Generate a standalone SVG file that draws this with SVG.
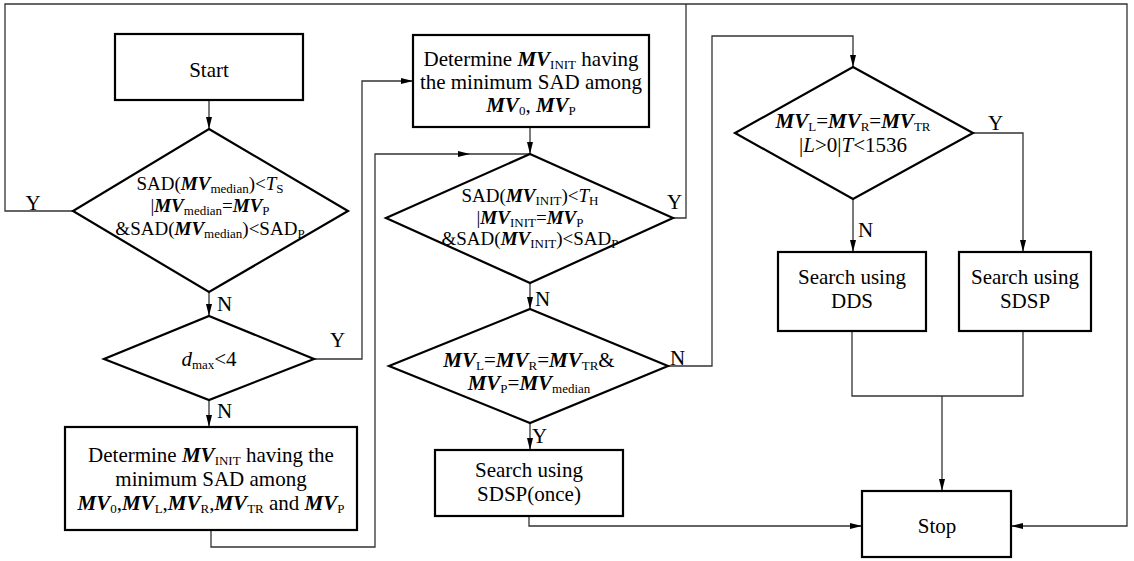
<svg xmlns="http://www.w3.org/2000/svg" width="1134" height="561" viewBox="0 0 1134 561" font-family="'Liberation Serif', 'Times New Roman', Times, 'DejaVu Serif', serif">
<defs>
<marker id="arr" viewBox="0 0 12 6" refX="12" refY="3" markerWidth="12" markerHeight="6" markerUnits="userSpaceOnUse" orient="auto"><path d="M0,0 L12,3 L0,6 z" fill="#000"/></marker>
<style>
.shape{fill:#fff;stroke:#000;stroke-width:2.2}
.conn{fill:none;stroke:#333;stroke-width:1.3}
.arr{marker-end:url(#arr)}
text{font-family:'Liberation Serif','Times New Roman',Times,'DejaVu Serif',serif;font-size:21px;fill:#000}
.c{text-anchor:middle}
.d{font-size:19px}
.b{font-weight:bold;font-style:italic}
.i{font-style:italic}
.s{font-size:13px}
</style>
</defs>
<rect width="1134" height="561" fill="#fff"/>
<g id="connectors">
<path class="conn arr" d="M209,100 V129"/>
<path class="conn arr" d="M73,211 H5 V4 H1127 V526 H1011"/>
<path class="conn" d="M673,218 H686 V4"/>
<path class="conn arr" d="M209,292 V316"/>
<path class="conn arr" d="M314,359 H362 V81 H413"/>
<path class="conn arr" d="M209,400 V427"/>
<path class="conn arr" d="M211,530 V547 H375 V154 H470"/>
<path class="conn" d="M470,154 H530"/>
<path class="conn arr" d="M530,127 V154"/>
<path class="conn arr" d="M530,283 V309"/>
<path class="conn arr" d="M530,423 V450"/>
<path class="conn arr" d="M668,366 H712 V36 H853 V67"/>
<path class="conn arr" d="M973,133 H1023 V252"/>
<path class="conn arr" d="M853,199 V252"/>
<path class="conn" d="M852,331 V396 H1023 V331"/>
<path class="conn arr" d="M942,396 V491"/>
<path class="conn arr" d="M529,516 V526 H862"/>
</g>
<g id="labels">
<text x="33" y="210" class="c">Y</text>
<text x="217" y="311">N</text>
<text x="330" y="347">Y</text>
<text x="217" y="418">N</text>
<text x="667" y="209">Y</text>
<text x="535" y="306">N</text>
<text x="670" y="365">N</text>
<text x="532" y="443">Y</text>
<text x="988" y="130">Y</text>
<text x="858" y="237">N</text>
</g>
<g id="start">
<rect class="shape" x="115" y="34" width="188" height="66"/>
<text x="209" y="77" class="c">Start</text>
</g>
<g id="cond1">
<polygon class="shape" points="209,129 348,211 209,292 73,211"/>
<text x="210" y="190" class="c d">SAD(<tspan class="b">MV</tspan><tspan class="s" dy="3">median</tspan><tspan dy="-3">)&lt;</tspan><tspan class="i">T</tspan><tspan class="s" dy="3">S</tspan></text>
<text x="210" y="212" class="c d">|<tspan class="b">MV</tspan><tspan class="s" dy="3">median</tspan><tspan dy="-3">=</tspan><tspan class="b">MV</tspan><tspan class="s" dy="3">P</tspan></text>
<text x="210" y="235" class="c d">&amp;SAD(<tspan class="b">MV</tspan><tspan class="s" dy="3">median</tspan><tspan dy="-3">)&lt;SAD</tspan><tspan class="s" dy="3">P</tspan></text>
</g>
<g id="cond2">
<polygon class="shape" points="209,316 314,359 209,400 104,359"/>
<text x="209" y="366" class="c"><tspan class="i">d</tspan><tspan class="s" dy="3">max</tspan><tspan dy="-3">&lt;4</tspan></text>
</g>
<g id="init-all">
<rect class="shape" x="65" y="427" width="292" height="103"/>
<text x="211" y="462" class="c">Determine <tspan class="b">MV</tspan><tspan class="s" dy="3">INIT</tspan><tspan dy="-3"> having the</tspan></text>
<text x="211" y="486" class="c">minimum SAD among</text>
<text x="211" y="510" class="c"><tspan class="b">MV</tspan><tspan class="s" dy="3">0</tspan><tspan dy="-3">,</tspan><tspan class="b">MV</tspan><tspan class="s" dy="3">L</tspan><tspan dy="-3">,</tspan><tspan class="b">MV</tspan><tspan class="s" dy="3">R</tspan><tspan dy="-3">,</tspan><tspan class="b">MV</tspan><tspan class="s" dy="3">TR</tspan><tspan dy="-3"> and </tspan><tspan class="b">MV</tspan><tspan class="s" dy="3">P</tspan></text>
</g>
<g id="init-two">
<rect class="shape" x="413" y="35" width="236" height="92"/>
<text x="531" y="66" class="c">Determine <tspan class="b">MV</tspan><tspan class="s" dy="3">INIT</tspan><tspan dy="-3"> having</tspan></text>
<text x="531" y="89" class="c">the minimum SAD among</text>
<text x="531" y="112" class="c"><tspan class="b">MV</tspan><tspan class="s" dy="3">0</tspan><tspan dy="-3">, </tspan><tspan class="b">MV</tspan><tspan class="s" dy="3">P</tspan></text>
</g>
<g id="cond3">
<polygon class="shape" points="530,154 673,218 530,283 386,218"/>
<text x="530" y="202" class="c d">SAD(<tspan class="b">MV</tspan><tspan class="s" dy="3">INIT</tspan><tspan dy="-3">)&lt;</tspan><tspan class="i">T</tspan><tspan class="s" dy="3">H</tspan></text>
<text x="530" y="224" class="c d">|<tspan class="b">MV</tspan><tspan class="s" dy="3">INIT</tspan><tspan dy="-3">=</tspan><tspan class="b">MV</tspan><tspan class="s" dy="3">P</tspan></text>
<text x="530" y="245" class="c d">&amp;SAD(<tspan class="b">MV</tspan><tspan class="s" dy="3">INIT</tspan><tspan dy="-3">)&lt;SAD</tspan><tspan class="s" dy="3">P</tspan></text>
</g>
<g id="cond4">
<polygon class="shape" points="530,309 668,366 530,423 389,366"/>
<text x="529" y="367" class="c"><tspan class="b">MV</tspan><tspan class="s" dy="3">L</tspan><tspan dy="-3">=</tspan><tspan class="b">MV</tspan><tspan class="s" dy="3">R</tspan><tspan dy="-3">=</tspan><tspan class="b">MV</tspan><tspan class="s" dy="3">TR</tspan><tspan dy="-3">&amp;</tspan></text>
<text x="529" y="390" class="c"><tspan class="b">MV</tspan><tspan class="s" dy="3">P</tspan><tspan dy="-3">=</tspan><tspan class="b">MV</tspan><tspan class="s" dy="3">median</tspan></text>
</g>
<g id="sdsp-once">
<rect class="shape" x="435" y="450" width="188" height="66"/>
<text x="529" y="477" class="c">Search using</text>
<text x="529" y="501" class="c">SDSP(once)</text>
</g>
<g id="cond5">
<polygon class="shape" points="853,67 973,133 853,199 735,133"/>
<text x="853" y="128" class="c"><tspan class="b">MV</tspan><tspan class="s" dy="3">L</tspan><tspan dy="-3">=</tspan><tspan class="b">MV</tspan><tspan class="s" dy="3">R</tspan><tspan dy="-3">=</tspan><tspan class="b">MV</tspan><tspan class="s" dy="3">TR</tspan></text>
<text x="853" y="152" class="c">|<tspan class="i">L</tspan>&gt;0|<tspan class="i">T</tspan>&lt;1536</text>
</g>
<g id="dds">
<rect class="shape" x="778" y="252" width="148" height="79"/>
<text x="852" y="284" class="c">Search using</text>
<text x="852" y="308" class="c">DDS</text>
</g>
<g id="sdsp">
<rect class="shape" x="959" y="252" width="132" height="79"/>
<text x="1025" y="284" class="c">Search using</text>
<text x="1025" y="308" class="c">SDSP</text>
</g>
<g id="stop">
<rect class="shape" x="862" y="491" width="149" height="66"/>
<text x="937" y="533" class="c">Stop</text>
</g>
</svg>
